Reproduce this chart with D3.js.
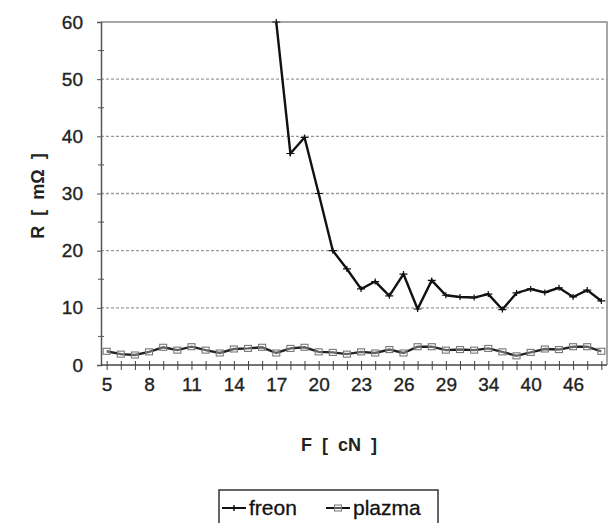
<!DOCTYPE html>
<html>
<head>
<meta charset="utf-8">
<script src="https://cdn.jsdelivr.net/npm/d3@7"></script>
<style>
  body { margin: 0; background: #fff; }
  svg { display: block; font-family: "Liberation Sans", Arial, sans-serif; }
</style>
</head>
<body>
<div id="chart"></div>
<script>
// force F [cN] categories, resistance R [mOhm]
var categories = [5, 6, 7, 8, 9, 10, 11, 12, 13, 14, 15, 16, 17, 18, 19, 20, 21, 22, 23, 24, 25, 26, 27, 28, 29,
                  30, 32, 34, 36, 38, 40, 42, 44, 46, 48, 50];
var freon = [null, null, null, null, null, null, null, null, null, null, null, null,
             60, 37, 39.8, 30, 20, 16.8, 13.3, 14.6, 12.1, 15.9, 9.8, 14.8, 12.2, 11.9, 11.8, 12.4,
             9.7, 12.6, 13.3, 12.7, 13.5, 11.9, 13.1, 11.2];
var plazma = [2.4, 1.9, 1.75, 2.3, 3.1, 2.6, 3.2, 2.6, 2.1, 2.8, 2.9, 3.1, 2.1, 2.9, 3.1, 2.3, 2.2, 1.9,
              2.3, 2.1, 2.7, 2.1, 3.2, 3.2, 2.6, 2.7, 2.6, 2.9, 2.3, 1.6, 2.2, 2.8, 2.7, 3.2, 3.2, 2.4];
var yTicks = [0, 10, 20, 30, 40, 50, 60];
var seriesNames = ["freon", "plazma"];

(function () {
    var width = 614, height = 523;
    var left = 101, right = 607, top = 22, bottom = 365;

    var svg = d3.select("#chart").append("svg").attr("width", width).attr("height", height);

    var x = d3.scalePoint().domain(d3.range(categories.length)).range([left, right]).padding(0.4);
    var y = d3.scaleLinear().domain([0, 60]).range([bottom, top]);

    // gridlines
    svg.append("g").selectAll("line").data(yTicks.filter(function (d) { return d > 0 && d < 60; }))
        .enter().append("line")
        .attr("x1", left).attr("x2", right)
        .attr("y1", function (d) { return y(d); }).attr("y2", function (d) { return y(d); })
        .attr("stroke", "#9a9a9a").attr("stroke-width", 1.3).attr("stroke-dasharray", "3,2");

    // frame top + right
    svg.append("path")
        .attr("d", "M" + left + "," + top + "H" + right + "V" + bottom)
        .attr("fill", "none").attr("stroke", "#8a8a8a").attr("stroke-width", 1.5);

    // y axis
    var yAxis = svg.append("g").attr("transform", "translate(" + left + ",0)")
        .call(d3.axisLeft(y).tickValues(yTicks).tickSize(4).tickPadding(14));
    yAxis.select(".domain").attr("stroke", "#555").attr("stroke-width", 1.5);
    yAxis.selectAll(".tick line").attr("stroke", "#555");
    yAxis.selectAll("text").attr("font-size", 19).attr("fill", "#222")
        .attr("stroke", "#222").attr("stroke-width", 0.35)
        .attr("font-family", "Liberation Sans, Arial, sans-serif");
    // minor ticks
    svg.append("g").selectAll("line").data(d3.range(5, 60, 10)).enter().append("line")
        .attr("x1", left - 3).attr("x2", left + 3)
        .attr("y1", function (d) { return y(d); }).attr("y2", function (d) { return y(d); })
        .attr("stroke", "#555");

    // x axis
    var xAxis = svg.append("g").attr("transform", "translate(0," + bottom + ")")
        .call(d3.axisBottom(x).tickSizeInner(5).tickSizeOuter(0).tickPadding(8)
            .tickFormat(function (i) { return i % 3 === 0 ? categories[i] : ""; }));
    xAxis.select(".domain").attr("d", "M" + left + ",0H" + right).attr("stroke", "#444").attr("stroke-width", 1.5);
    xAxis.selectAll(".tick line").attr("y1", -4).attr("y2", 5).attr("stroke", "#444");
    xAxis.selectAll("text").attr("font-size", 19).attr("fill", "#222")
        .attr("stroke", "#222").attr("stroke-width", 0.35)
        .attr("font-family", "Liberation Sans, Arial, sans-serif");

    // lines
    var line = d3.line()
        .defined(function (d) { return d != null; })
        .x(function (d, i) { return x(i); })
        .y(function (d) { return y(d); });

    svg.append("path").datum(plazma).attr("d", line)
        .attr("fill", "none").attr("stroke", "#222").attr("stroke-width", 2.4);
    svg.append("path").datum(freon).attr("d", line)
        .attr("fill", "none").attr("stroke", "#111").attr("stroke-width", 2.4);

    // markers
    svg.append("g").selectAll("rect").data(plazma).enter().append("rect")
        .attr("x", function (d, i) { return x(i) - 3.5; })
        .attr("y", function (d) { return y(d) - 3; })
        .attr("width", 7).attr("height", 6)
        .attr("fill", "#fff").attr("fill-opacity", 0.3).attr("stroke", "#777").attr("stroke-width", 1.1);

    var fp = freon.map(function (d, i) { return { v: d, i: i }; }).filter(function (d) { return d.v != null; });
    svg.append("g").selectAll("path").data(fp).enter().append("path")
        .attr("d", function (d) {
            var cx = x(d.i), cy = y(d.v);
            return "M" + (cx - 4) + "," + cy + "H" + (cx + 4) + "M" + cx + "," + (cy - 3) + "V" + (cy + 3);
        })
        .attr("stroke", "#111").attr("stroke-width", 1.2);

    // axis titles
    svg.append("text")
        .attr("transform", "translate(44,196) rotate(-90)")
        .attr("text-anchor", "middle").attr("font-size", 18).attr("font-weight", "bold")
        .attr("fill", "#222").style("white-space", "pre")
        .text("R  [  m\u03A9  ]");
    svg.append("text")
        .attr("x", 339).attr("y", 451)
        .attr("text-anchor", "middle").attr("font-size", 18).attr("font-weight", "bold")
        .attr("fill", "#222").style("white-space", "pre")
        .text("F  [  cN  ]");

    // legend
    var lg = svg.append("g");
    lg.append("rect").attr("x", 219).attr("y", 490).attr("width", 219).attr("height", 40)
        .attr("fill", "#fff").attr("stroke", "#333").attr("stroke-width", 1.5);
    var items = lg.selectAll("g.item").data(seriesNames).enter().append("g")
        .attr("transform", function (d, i) { return "translate(" + (i === 0 ? 222 : 326) + ",508)"; });
    items.append("line").attr("x1", 0).attr("x2", 24).attr("stroke", "#111").attr("stroke-width", 2);
    items.each(function (d) {
        var g = d3.select(this);
        if (d === "freon") {
            g.append("path").attr("d", "M12,-3V3").attr("stroke", "#111").attr("stroke-width", 1.5);
        } else {
            g.append("rect").attr("x", 8.5).attr("y", -3).attr("width", 7).attr("height", 6)
                .attr("fill", "#fff").attr("fill-opacity", 0.3).attr("stroke", "#777");
        }
    });
    items.append("text").attr("x", 27).attr("y", 7).attr("font-size", 21).attr("fill", "#111")
        .attr("stroke", "#111").attr("stroke-width", 0.3)
        .text(function (d) { return d; });
})();
</script>
</body>
</html>
